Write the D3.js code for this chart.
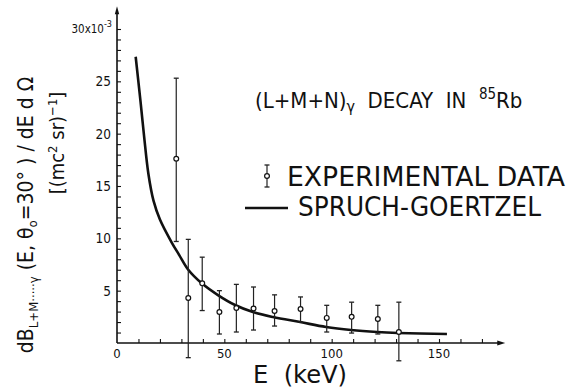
<!DOCTYPE html>
<html>
<head>
<meta charset="utf-8">
<script src="https://cdn.jsdelivr.net/npm/d3@7"></script>
<style>
  body { margin: 0; background: #fff; }
  text { font-family: "Liberation Sans Narrow", "DejaVu Sans Condensed", "Arial Narrow", "DejaVu Sans", sans-serif; fill: #111; white-space: pre; }
</style>
</head>
<body>
<div id="chart"></div>
<script>
// experimental points (E in keV, values in units of 1e-3)
const expE = [27.6, 33.2, 39.7, 47.7, 55.6, 63.6, 73.4, 85.5, 97.7, 109.3, 121.5, 131.3]
const expVal = [17.6, 4.3, 5.7, 2.96, 3.34, 3.3, 3.06, 3.25, 2.4, 2.5, 2.3, 1.05]
const expHi = [25.3, 9.9, 8.2, 5.0, 5.6, 5.35, 4.6, 4.4, 3.6, 3.9, 3.6, 3.9]
const expLo = [9.7, -1.4, 3.1, 0.86, 1.05, 1.24, 1.62, 2.0, 1.05, 0.95, 0.86, -1.7]

// Spruch-Goertzel theory curve
const theoryE = [8.7, 11, 12.6, 14.6, 17, 20, 25.5, 29, 33.2, 39.5, 47, 55, 63.3, 72.7, 85.3, 97.4, 109, 121.1, 130.9, 153.7]
const theoryVal = [27.35, 23.0, 19.8, 16.2, 13.6, 11.8, 9.6, 8.4, 7.0, 5.7, 4.58, 3.63, 2.96, 2.48, 2.0, 1.53, 1.24, 1.05, 0.96, 0.86]

const xMinorTicks = d3.range(10, 180, 10)
const xLabelTicks = [0, 50, 100, 150]
const yMinorTicks = d3.range(1, 31, 1)
const yLabelTicks = [5, 10, 15, 20, 25]

const width = 574, height = 390
const xEnd = 179, yEnd = 31.8   // where the arrow heads sit

const svg = d3.select('#chart').append('svg')
  .attr('width', width).attr('height', height)

const x = d3.scaleLinear().domain([0, 150]).range([117, 439])
const y = d3.scaleLinear().domain([0, 30]).range([343, 29])

// axes lines with arrows
svg.append('line')
  .attr('x1', x(0)).attr('y1', y(0)).attr('x2', x(xEnd)).attr('y2', y(0))
  .attr('stroke', '#111').attr('stroke-width', 1.6)
svg.append('line')
  .attr('x1', x(0)).attr('y1', y(0)).attr('x2', x(0)).attr('y2', y(yEnd))
  .attr('stroke', '#111').attr('stroke-width', 1.6)
svg.append('path')
  .attr('d', `M${x(xEnd) + 4},${y(0)} L${x(xEnd) - 4},${y(0) - 2.5} L${x(xEnd) - 4},${y(0) + 2.5} Z`)
  .attr('fill', '#111')
svg.append('path')
  .attr('d', `M${x(0)},${y(yEnd) - 4} L${x(0) - 2.2},${y(yEnd) + 4} L${x(0) + 2.2},${y(yEnd) + 4} Z`)
  .attr('fill', '#111')

// ticks, drawn inwards
const xAxis = svg.append('g')
  .attr('transform', `translate(0,${y(0)})`)
  .call(d3.axisBottom(x).tickValues(xMinorTicks).tickSize(-4).tickFormat(''))
xAxis.select('.domain').remove()
xAxis.selectAll('line').attr('stroke', '#111').attr('stroke-width', 1.1)

const yAxis = svg.append('g')
  .attr('transform', `translate(${x(0)},0)`)
  .call(d3.axisLeft(y).tickValues(yMinorTicks).tickSize(-4).tickFormat(''))
yAxis.select('.domain').remove()
yAxis.selectAll('line').attr('stroke', '#111').attr('stroke-width', 1.1)

// tick labels
svg.append('g').selectAll('text')
  .data(xLabelTicks).enter().append('text')
  .attr('x', d => x(d)).attr('y', 358)
  .attr('text-anchor', 'middle').attr('font-size', 13)
  .text(d => d)

svg.append('g').selectAll('text')
  .data(yLabelTicks).enter().append('text')
  .attr('x', 111).attr('y', d => y(d) + 5)
  .attr('text-anchor', 'end').attr('font-size', 13.5)
  .text(d => d)

const topLabel = svg.append('text')
  .attr('x', 112).attr('y', y(30) + 4)
  .attr('text-anchor', 'end').attr('font-size', 11.5)
topLabel.append('tspan').text('30x10')
topLabel.append('tspan').attr('dy', -6).attr('font-size', 9).text('-3')

// theory curve
const line = d3.line()
  .x(d => x(d[0])).y(d => y(d[1]))
  .curve(d3.curveCatmullRom)
svg.append('path')
  .datum(theoryE.map((e, i) => [e, theoryVal[i]]))
  .attr('d', line)
  .attr('fill', 'none').attr('stroke', '#111').attr('stroke-width', 2.6)

// error bars
const pts = expE.map((e, i) => ({ e, v: expVal[i], hi: expHi[i], lo: expLo[i] }))
const bars = svg.append('g').selectAll('g').data(pts).enter().append('g')
bars.append('line')
  .attr('x1', d => x(d.e)).attr('x2', d => x(d.e))
  .attr('y1', d => y(d.hi)).attr('y2', d => y(d.lo))
  .attr('stroke', '#222').attr('stroke-width', 1.2)
bars.append('line')
  .attr('x1', d => x(d.e) - 2.5).attr('x2', d => x(d.e) + 2.5)
  .attr('y1', d => y(d.hi)).attr('y2', d => y(d.hi))
  .attr('stroke', '#222').attr('stroke-width', 1.3)
bars.append('line')
  .attr('x1', d => x(d.e) - 2.5).attr('x2', d => x(d.e) + 2.5)
  .attr('y1', d => y(d.lo)).attr('y2', d => y(d.lo))
  .attr('stroke', '#222').attr('stroke-width', 1.3)
bars.append('circle')
  .attr('cx', d => x(d.e)).attr('cy', d => y(d.v)).attr('r', 2.4)
  .attr('fill', '#fff').attr('stroke', '#111').attr('stroke-width', 1.2)

// title
const title = svg.append('text')
  .attr('x', 255).attr('y', 108).attr('font-size', 22)
title.append('tspan').text('(L+M+N)')
title.append('tspan').attr('dy', 4).attr('font-size', 16).text('γ')
title.append('tspan').attr('dy', -4).text('  DECAY  IN  ')
title.append('tspan').attr('dy', -9).attr('font-size', 15).text('85')
title.append('tspan').attr('dy', 9).text('Rb')

// legend
svg.append('line').attr('x1', 267).attr('x2', 267).attr('y1', 165).attr('y2', 187)
  .attr('stroke', '#222').attr('stroke-width', 1.2)
svg.append('line').attr('x1', 264.5).attr('x2', 269.5).attr('y1', 165).attr('y2', 165)
  .attr('stroke', '#222').attr('stroke-width', 1.3)
svg.append('line').attr('x1', 264.5).attr('x2', 269.5).attr('y1', 187).attr('y2', 187)
  .attr('stroke', '#222').attr('stroke-width', 1.3)
svg.append('circle').attr('cx', 267).attr('cy', 176).attr('r', 2.4)
  .attr('fill', '#fff').attr('stroke', '#111').attr('stroke-width', 1.2)
svg.append('text').attr('x', 287).attr('y', 186).attr('font-size', 27)
  .attr('textLength', 278).attr('lengthAdjust', 'spacingAndGlyphs')
  .text('EXPERIMENTAL DATA')

svg.append('line').attr('x1', 245).attr('x2', 288).attr('y1', 208).attr('y2', 208)
  .attr('stroke', '#111').attr('stroke-width', 2.6)
svg.append('text').attr('x', 298).attr('y', 216).attr('font-size', 27)
  .attr('textLength', 243).attr('lengthAdjust', 'spacingAndGlyphs')
  .text('SPRUCH-GOERTZEL')

// axis titles
svg.append('text').attr('x', 300).attr('y', 383)
  .attr('text-anchor', 'middle').attr('font-size', 24)
  .attr('textLength', 94).attr('lengthAdjust', 'spacingAndGlyphs')
  .text('E  (keV)')

const yl1 = svg.append('text')
  .attr('transform', 'translate(33,215) rotate(-90)')
  .attr('text-anchor', 'middle').attr('font-size', 21)
yl1.append('tspan').text('dB')
yl1.append('tspan').attr('dy', 5).attr('font-size', 13).text('L+M·····γ')
yl1.append('tspan').attr('dy', -5).text(' (E, θ')
yl1.append('tspan').attr('dy', 4).attr('font-size', 13).text('o')
yl1.append('tspan').attr('dy', -4).text('=30° ) / dE d Ω')

const yl2 = svg.append('text')
  .attr('transform', 'translate(64,143) rotate(-90)')
  .attr('text-anchor', 'middle').attr('font-size', 20)
yl2.append('tspan').text('[(mc')
yl2.append('tspan').attr('dy', -7).attr('font-size', 13).text('2')
yl2.append('tspan').attr('dy', 7).text(' sr)')
yl2.append('tspan').attr('dy', -7).attr('font-size', 13).text('−1')
yl2.append('tspan').attr('dy', 7).text(']')
</script>
</body>
</html>
